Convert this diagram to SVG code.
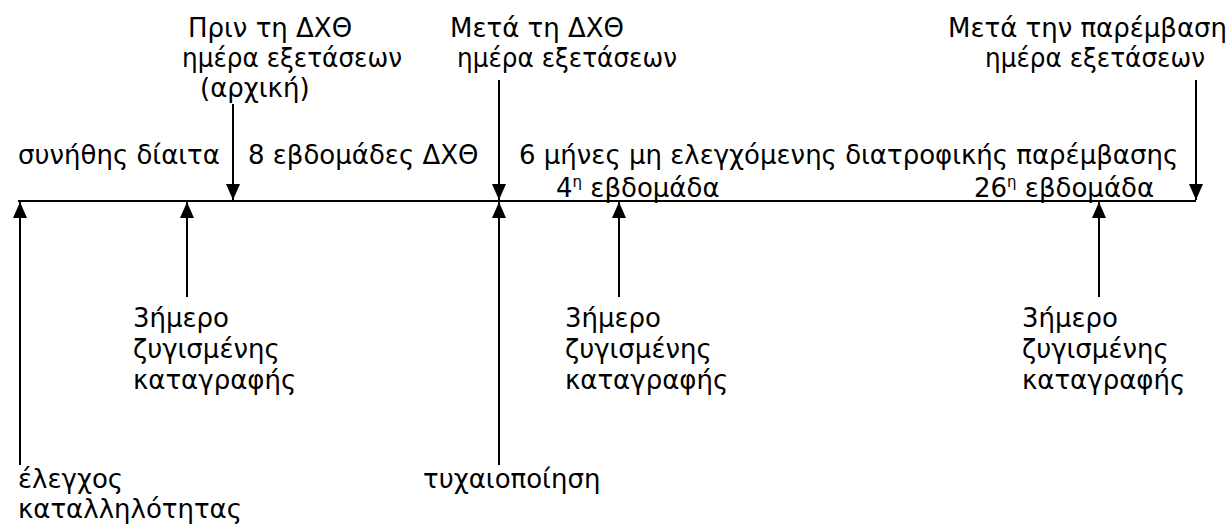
<svg xmlns="http://www.w3.org/2000/svg" width="1229" height="526" viewBox="0 0 1229 526">
<style>
text{font-family:"DejaVu Sans","Noto Sans",sans-serif;font-size:26px;fill:#000}
.ln{stroke:#000;stroke-width:2;fill:none}
.sup{font-size:15px}
</style>
<defs>
<marker id="ah" markerWidth="16" markerHeight="14" refX="16" refY="7" orient="auto" markerUnits="userSpaceOnUse" viewBox="0 0 16 14">
<path d="M0,0 L16,7 L0,14 Z" fill="#000"/>
</marker>
</defs>
<rect width="1229" height="526" fill="#fff"/>
<g id="connectors">
<line class="ln" x1="18" y1="201" x2="1196" y2="201"/>
<line class="ln" x1="233" y1="104" x2="233" y2="200" marker-end="url(#ah)"/>
<line class="ln" x1="499" y1="80" x2="499" y2="200" marker-end="url(#ah)"/>
<line class="ln" x1="1196" y1="80" x2="1196" y2="200" marker-end="url(#ah)"/>
<line class="ln" x1="20" y1="465" x2="20" y2="202" marker-end="url(#ah)"/>
<line class="ln" x1="187" y1="297" x2="187" y2="202" marker-end="url(#ah)"/>
<line class="ln" x1="499" y1="465" x2="499" y2="202" marker-end="url(#ah)"/>
<line class="ln" x1="619" y1="297" x2="619" y2="202" marker-end="url(#ah)"/>
<line class="ln" x1="1099" y1="297" x2="1099" y2="202" marker-end="url(#ah)"/>
</g>
<g id="pre-exam">
<text x="188" y="37">Πριν τη ΔΧΘ</text>
<text x="182" y="67" textLength="220" lengthAdjust="spacingAndGlyphs">ημέρα εξετάσεων</text>
<text x="200" y="97">(αρχική)</text>
</g>
<g id="post-dash-exam">
<text x="450" y="37">Μετά τη ΔΧΘ</text>
<text x="457" y="67" textLength="220" lengthAdjust="spacingAndGlyphs">ημέρα εξετάσεων</text>
</g>
<g id="post-intervention-exam">
<text x="948" y="37">Μετά την παρέμβαση</text>
<text x="985" y="67" textLength="220" lengthAdjust="spacingAndGlyphs">ημέρα εξετάσεων</text>
</g>
<g id="period-usual">
<text x="18" y="164">συνήθης δίαιτα</text>
</g>
<g id="period-dash">
<text x="248" y="164">8 εβδομάδες ΔΧΘ</text>
</g>
<g id="period-intervention">
<text x="519" y="164">6 μήνες μη ελεγχόμενης διατροφικής παρέμβασης</text>
</g>
<g id="week4">
<text x="556" y="197">4<tspan class="sup" dy="-10">η</tspan><tspan dy="10"> εβδομάδα</tspan></text>
</g>
<g id="week26">
<text x="974" y="197">26<tspan class="sup" dy="-10">η</tspan><tspan dy="10"> εβδομάδα</tspan></text>
</g>
<g id="record1">
<text x="133" y="327">3ήμερο</text>
<text x="133" y="358">ζυγισμένης</text>
<text x="133" y="389">καταγραφής</text>
</g>
<g id="record2">
<text x="565" y="327">3ήμερο</text>
<text x="565" y="358">ζυγισμένης</text>
<text x="565" y="389">καταγραφής</text>
</g>
<g id="record3">
<text x="1022" y="327">3ήμερο</text>
<text x="1022" y="358">ζυγισμένης</text>
<text x="1022" y="389">καταγραφής</text>
</g>
<g id="eligibility">
<text x="18" y="488">έλεγχος</text>
<text x="18" y="518">καταλληλότητας</text>
</g>
<g id="randomization">
<text x="423" y="488">τυχαιοποίηση</text>
</g>
</svg>
